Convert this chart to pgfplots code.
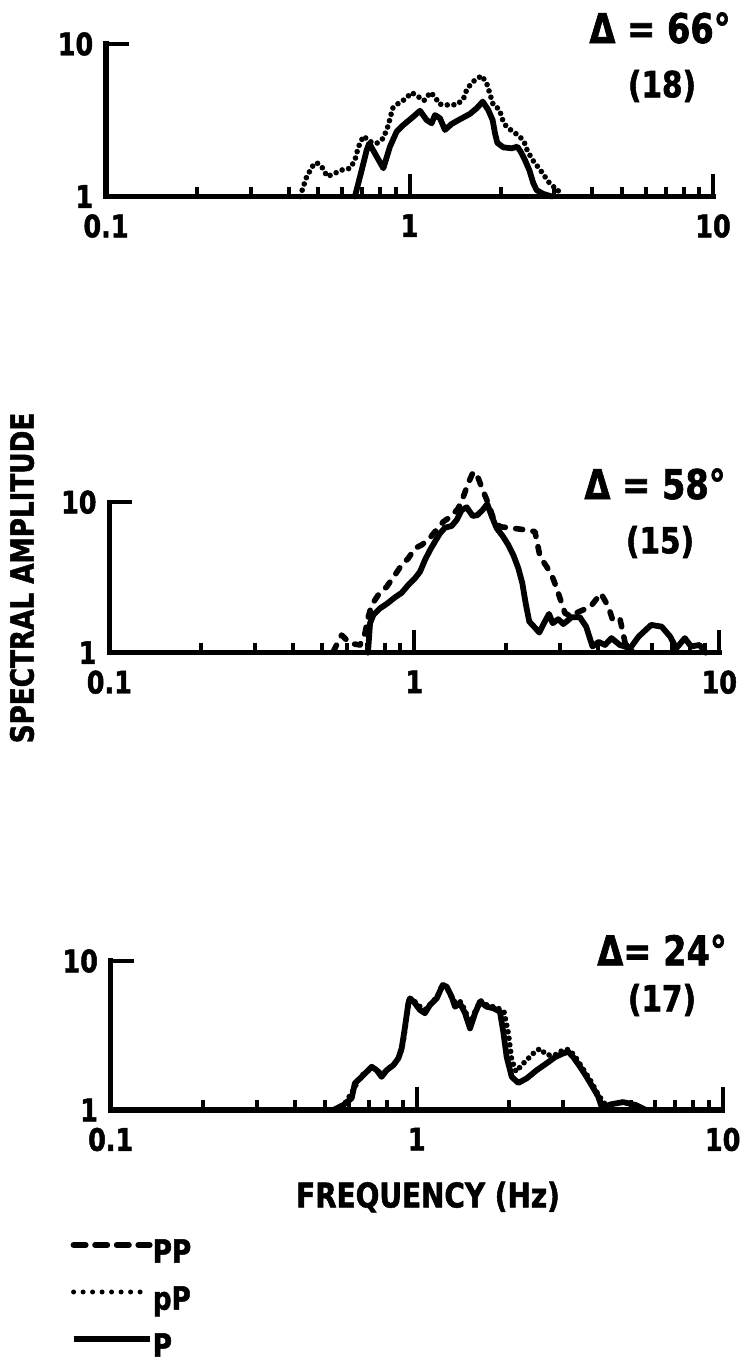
\documentclass[border=0pt]{standalone}
\usepackage{pgfplots}
\pgfplotsset{compat=1.18}
\usepackage{fontspec}
\setmainfont{DejaVu Sans}[FakeStretch=0.82, BoldFeatures={FakeBold=1.5}]
\newcommand{\lblfont}[1]{\bfseries\fontsize{#1}{#1}\selectfont}
\pgfplotsset{
  stdpanel/.style={
    xmin=0.1, xmax=10, ymin=1, ymax=10,
    scale only axis, clip=false, anchor=south west,
    axis x line=bottom, axis y line=left,
    axis line style={-, line width=2.6pt, line cap=rect},
    xtick={0.1,1,10}, xticklabels={0.1,1,10},
    minor xtick={0.2,0.3,0.4,0.5,0.6,0.7,0.8,0.9,2,3,4,5,6,7,8,9},
    ytick={1,10}, yticklabels={1,10},
    yminorticks=false,
    tick align=inside,
    major tick length=11.5pt, minor tick length=5pt,
    major tick style={black, line width=2pt},
    minor tick style={black, line width=2pt},
    ticklabel style={font=\lblfont{15.5}},
    xticklabel style={inner sep=1pt, yshift=-7.7pt},
    yticklabel style={inner sep=1pt, xshift=-5.2pt},
  },
}
\tikzset{
  sP/.style={black, line width=2.9pt, line join=round, line cap=round},
  spP/.style={black, line width=2.8pt, dash pattern=on 0pt off 3.3pt, line cap=round, line join=round},
  sPP/.style={black, line width=2.8pt, dash pattern=on 3.5pt off 5.2pt, line cap=round, line join=round},
}
\begin{document}
\begin{tikzpicture}
\path[use as bounding box] (0,0) rectangle (370.5pt,682pt);

% ---------------- Panel 1 (Delta = 66)
\begin{loglogaxis}[stdpanel, at={(53pt,583.75pt)}, width=303.5pt, height=76.25pt]
\addplot[spP] coordinates {
(0.436,1.0) (0.4585,1.35) (0.480,1.585) (0.494,1.67) (0.5136,1.57) (0.536,1.35)
(0.568,1.42) (0.598,1.49) (0.637,1.53) (0.661,1.73) (0.678,2.10) (0.705,2.49)
(0.741,2.29) (0.780,2.23) (0.820,2.41) (0.852,2.94) (0.880,3.79) (0.919,4.08)
(0.966,4.34) (1.017,4.80) (1.069,4.51) (1.116,4.25) (1.174,4.82) (1.220,4.43)
(1.251,4.04) (1.309,3.98) (1.431,4.0) (1.504,4.34) (1.550,5.12) (1.631,5.72)
(1.730,6.20) (1.796,5.52) (1.842,4.70) (1.888,3.98) (1.977,3.73) (2.028,3.17)
(2.079,2.90) (2.171,2.70) (2.300,2.49) (2.384,2.29) (2.444,2.0) (2.547,1.73)
(2.658,1.55) (2.760,1.40) (2.867,1.25) (2.978,1.16) (3.07,1.13) (3.13,1.02)
};
\addplot[sP] coordinates {
(0.661,1.0) (0.696,1.49) (0.723,2.02) (0.737,2.23) (0.820,1.53) (0.862,2.12)
(0.907,2.66) (0.954,2.94) (1.030,3.34) (1.083,3.65) (1.139,3.17) (1.183,3.02)
(1.213,3.42) (1.260,3.26) (1.309,2.73) (1.377,2.99) (1.467,3.21) (1.582,3.48)
(1.665,3.79) (1.743,4.19) (1.818,3.69) (1.879,3.17) (1.913,2.60) (1.947,2.25)
(2.037,2.10) (2.171,2.07) (2.266,2.12) (2.324,1.97) (2.402,1.73) (2.482,1.49)
(2.559,1.22) (2.624,1.10) (2.760,1.04) (2.941,1.0)
};
\end{loglogaxis}

% ---------------- Panel 2 (Delta = 58)
\begin{loglogaxis}[stdpanel, at={(54.65pt,355.65pt)}, width=305pt, height=75.25pt]
\addplot[sPP] coordinates {
(0.5426,1.02) (0.578,1.31) (0.615,1.155) (0.664,1.125) (0.689,1.345) (0.707,1.735)
(0.725,2.075) (0.762,2.42) (0.812,2.745) (0.864,3.28) (0.909,3.83) (0.956,4.24)
(1.005,4.94) (1.057,5.20) (1.111,5.61) (1.169,6.37) (1.245,7.42) (1.326,8.10)
(1.394,9.11) (1.448,10.88) (1.503,13.36) (1.561,15.95) (1.621,14.42) (1.684,11.75)
(1.748,9.83) (1.816,7.82) (1.910,6.87) (2.112,6.71) (2.336,6.53) (2.487,6.37)
(2.531,5.33) (2.583,4.345) (2.716,3.73) (2.822,3.28) (2.930,2.68) (3.043,2.13)
(3.12,1.83) (3.28,1.735) (3.38,1.83) (3.78,2.02) (4.09,2.48) (4.33,2.02)
(4.47,1.65) (4.72,1.69) (4.94,1.10) (5.19,1.02)
};
\addplot[sP] coordinates {
(0.705,1.0) (0.716,1.57) (0.734,1.78) (0.772,1.97) (0.812,2.11) (0.864,2.33)
(0.909,2.50) (0.956,2.82) (1.005,3.12) (1.044,3.45) (1.084,4.13) (1.126,4.81)
(1.169,5.47) (1.214,6.21) (1.261,6.77) (1.326,6.95) (1.377,7.62) (1.430,8.87)
(1.485,9.25) (1.554,8.10) (1.609,8.2) (1.675,8.87) (1.735,9.73) (1.793,8.10)
(1.863,6.71) (1.949,5.96) (2.033,5.20) (2.112,4.46) (2.193,3.64) (2.261,2.89)
(2.318,2.13) (2.382,1.61) (2.469,1.49) (2.570,1.36) (2.662,1.57) (2.765,1.81)
(2.843,1.57) (2.965,1.67) (3.08,1.55) (3.28,1.72) (3.49,1.72) (3.66,1.49)
(3.84,1.10) (4.02,1.18) (4.22,1.125) (4.43,1.25) (4.72,1.125) (5.10,1.07)
(5.44,1.28) (5.98,1.53) (6.47,1.49) (6.90,1.28) (7.23,1.07) (7.71,1.25)
(8.08,1.10) (8.61,1.125) (9.03,1.0)
};
\end{loglogaxis}

% ---------------- Panel 3 (Delta = 24)
\begin{loglogaxis}[stdpanel, at={(55.35pt,127pt)}, width=306pt, height=74.5pt,
  legend style={at={(-0.0665,-0.865)}, anchor=north west, draw=none, fill=none,
    inner sep=0pt, row sep=9.2pt, font=\lblfont{16},
    nodes={inner sep=0pt, text height=11.7pt, text depth=2.6pt},
    /tikz/every even column/.append style={column sep=3pt}},
  legend cell align=left,
  legend image code/.code={\draw[#1] (0pt,4.3pt) -- (38pt,4.3pt);},
]
\addlegendimage{black, line width=3pt, dash pattern=on 6pt off 4.8pt, line cap=round}
\addlegendentry{PP}
\addlegendimage{black, line width=2.5pt, dash pattern=on 0pt off 4.75pt, line cap=round}
\addlegendentry{pP}
\addlegendimage{black, line width=3.2pt}
\addlegendentry{P}
\addplot[spP, forget plot] coordinates {
(0.541,1.0) (0.583,1.11) (0.621,1.36) (0.653,1.67) (0.687,1.81) (0.718,1.93)
(0.749,1.81) (0.778,1.76) (0.808,1.90) (0.849,2.06) (0.882,2.34) (0.904,2.87)
(0.927,4.23) (0.946,5.53) (0.987,5.33) (1.030,4.89) (1.072,4.74) (1.119,5.25)
(1.168,5.76) (1.216,7.01) (1.259,6.56) (1.304,5.62) (1.344,5.20) (1.392,5.33)
(1.445,4.57) (1.494,3.72) (1.551,4.57) (1.618,5.42) (1.714,4.99) (1.825,4.89)
(1.929,4.57) (1.993,3.27) (2.044,2.17) (2.112,1.81) (2.203,2.0) (2.316,2.22)
(2.435,2.46) (2.529,2.58) (2.660,2.34) (2.831,2.34) (3.013,2.53) (3.129,2.55)
(3.27,2.34) (3.46,1.95) (3.69,1.59) (3.87,1.33) (4.02,1.17) (4.25,1.02)
};
\addplot[sP, forget plot] coordinates {
(0.534,1.0) (0.576,1.08) (0.613,1.20) (0.628,1.51) (0.653,1.63) (0.678,1.76)
(0.713,1.95) (0.740,1.85) (0.768,1.67) (0.798,1.85) (0.839,2.00) (0.871,2.22)
(0.893,2.59) (0.916,3.62) (0.939,5.20) (0.951,5.62) (0.987,5.20) (1.025,4.69)
(1.064,4.46) (1.105,5.07) (1.163,5.62) (1.216,6.90) (1.253,6.72) (1.301,5.76)
(1.334,4.93) (1.385,5.20) (1.439,4.46) (1.494,3.53) (1.551,4.46) (1.610,5.33)
(1.694,4.93) (1.780,4.82) (1.871,4.57) (1.919,3.35) (1.968,2.28) (2.044,1.67)
(2.148,1.52) (2.288,1.63) (2.466,1.85) (2.660,2.06) (2.831,2.26) (3.013,2.40)
(3.129,2.46) (3.25,2.26) (3.42,1.95) (3.59,1.67) (3.78,1.40) (3.92,1.23)
(4.03,1.035) (4.30,1.09) (4.72,1.13) (5.20,1.08) (5.61,1.0)
};
\end{loglogaxis}

% ---------------- Annotations
\node[font=\lblfont{20.5}] at (330pt,668pt) {Δ = 66°};
\node[font=\lblfont{18}] at (331pt,639pt) {(18)};
\node[font=\lblfont{20.5}] at (327.5pt,440pt) {Δ = 58°};
\node[font=\lblfont{18}] at (330pt,411pt) {(15)};
\node[font=\lblfont{20.5}] at (331pt,207pt) {Δ= 24°};
\node[font=\lblfont{18}] at (331pt,182pt) {(17)};
\node[font=\lblfont{16}, rotate=90] at (11pt,393pt) {SPECTRAL AMPLITUDE};
\node[font=\lblfont{17}] at (214pt,83.5pt) {FREQUENCY (Hz)};
\end{tikzpicture}
\end{document}
